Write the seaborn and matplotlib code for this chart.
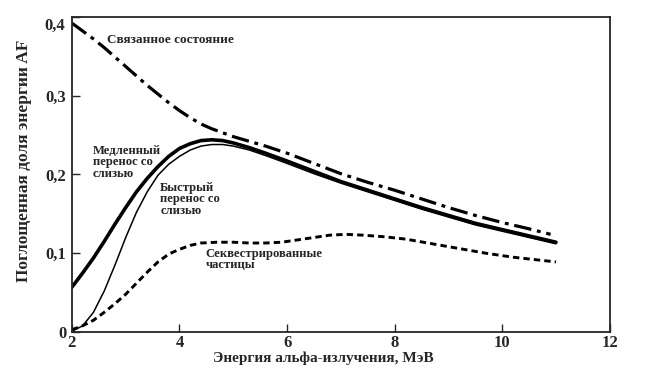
import matplotlib
matplotlib.use("Agg")
import matplotlib.pyplot as plt
import seaborn as sns

# energy (MeV) and absorbed fraction AF
x_bound = [2.0, 2.2, 2.4, 2.6, 2.8, 3.0, 3.2, 3.4, 3.6, 3.8, 4.0, 4.2, 4.4, 4.6, 4.8, 5.0, 5.3, 5.6,
           6.0, 6.5, 7.0, 7.5, 8.0, 8.5, 9.0, 9.5, 10.0, 10.5, 10.9]
y_bound = [0.392, 0.382, 0.372, 0.361, 0.349, 0.337, 0.325, 0.313, 0.302, 0.291, 0.281, 0.272, 0.264,
           0.258, 0.253, 0.248, 0.242, 0.236, 0.227, 0.214, 0.201, 0.190, 0.180, 0.169, 0.158, 0.148,
           0.139, 0.131, 0.124]

x_slow = [2.0, 2.2, 2.4, 2.6, 2.8, 3.0, 3.2, 3.4, 3.6, 3.8, 4.0, 4.2, 4.4, 4.6, 4.8, 5.0, 5.3, 5.6,
          6.0, 6.5, 7.0, 7.5, 8.0, 8.5, 9.0, 9.5, 10.0, 10.5, 11.0]
y_slow = [0.057, 0.075, 0.094, 0.115, 0.137, 0.158, 0.178, 0.195, 0.210, 0.223, 0.233, 0.239, 0.243,
          0.244, 0.243, 0.240, 0.234, 0.227, 0.217, 0.204, 0.191, 0.180, 0.169, 0.158, 0.148, 0.138,
          0.130, 0.122, 0.114]

x_fast = [2.0, 2.2, 2.4, 2.6, 2.8, 3.0, 3.2, 3.4, 3.6, 3.8, 4.0, 4.2, 4.4, 4.6, 4.8, 5.0, 5.3, 5.6,
          6.0, 6.5, 7.0, 7.5, 8.0, 8.5, 9.0, 9.5, 10.0, 10.5, 11.0]
y_fast = [0.001, 0.008, 0.025, 0.052, 0.085, 0.120, 0.152, 0.178, 0.199, 0.213, 0.223, 0.231, 0.236,
          0.238, 0.238, 0.236, 0.231, 0.224, 0.214, 0.201, 0.189, 0.178, 0.167, 0.156, 0.146, 0.136,
          0.128, 0.120, 0.112]

x_seq = [2.0, 2.2, 2.4, 2.6, 2.8, 3.0, 3.2, 3.4, 3.6, 3.8, 4.0, 4.2, 4.4, 4.7, 5.0, 5.3, 5.6, 5.9,
         6.2, 6.5, 6.8, 7.1, 7.4, 7.8, 8.2, 8.7, 9.2, 9.7, 10.2, 10.6, 11.0]
y_seq = [0.003, 0.008, 0.015, 0.025, 0.036, 0.048, 0.062, 0.076, 0.089, 0.099, 0.105, 0.110, 0.113,
         0.114, 0.114, 0.113, 0.113, 0.114, 0.117, 0.120, 0.123, 0.124, 0.123, 0.121, 0.118, 0.112,
         0.106, 0.100, 0.095, 0.092, 0.089]

x_ticks = [2, 4, 6, 8, 10, 12]
y_ticks = [0, 0.1, 0.2, 0.3, 0.4]
y_tick_labels = ["0", "0,1", "0,2", "0,3", ""]

sns.set_style("ticks")
plt.rcParams['font.family'] = ['Liberation Serif', 'DejaVu Serif']
plt.rcParams['font.weight'] = 'bold'

fig = plt.figure(figsize=(6.48, 3.83), dpi=100)
ax = fig.add_axes([0.111, 0.133, 0.830, 0.823])

sns.lineplot(x=x_bound, y=y_bound, ax=ax, color="black", linewidth=2.3,
             linestyle=(0, (5.5, 1.8, 1.2, 1.8)))
sns.lineplot(x=x_slow, y=y_slow, ax=ax, color="black", linewidth=2.6)
sns.lineplot(x=x_fast, y=y_fast, ax=ax, color="black", linewidth=1.1)
sns.lineplot(x=x_seq, y=y_seq, ax=ax, color="black", linewidth=2.1,
             linestyle=(0, (2.2, 1.4)))
for ln in ax.lines:
    ln.set_solid_joinstyle("round")
    ln.set_dash_joinstyle("round")

ax.set_xlim(2, 12)
ax.set_ylim(0, 0.4)
ax.set_xticks(x_ticks)
ax.set_xticklabels([str(t) for t in x_ticks])
ax.set_yticks(y_ticks)
ax.set_yticklabels(y_tick_labels)
ax.tick_params(direction="in", length=6, width=1, labelsize=12)
ax.tick_params(axis="x", pad=2)
ax.tick_params(axis="y", pad=4)
for s in ax.spines.values():
    s.set_visible(True)
    s.set_linewidth(1.3)

# top y label sits a little below the corner in the original
ax.text(-0.012, 0.389, "0,4", transform=ax.get_yaxis_transform(),
        ha="right", va="center", fontsize=12, fontweight="bold")

ax.set_xlabel("Энергия альфа-излучения, МэВ", fontsize=11, fontweight="bold")
ax.set_ylabel("Поглощенная доля энергии AF", fontsize=12.5, fontweight="bold")
ax.xaxis.set_label_coords(0.467, -0.062)
ax.yaxis.set_label_coords(-0.074, 0.543)

tk = dict(fontsize=9.5, fontweight="bold", va="top", ha="left", linespacing=0.95)
ax.text(2.65, 0.378, "Связанное состояние", **tk)
tk["fontsize"] = 9.1
ax.text(2.39, 0.238, "Медленный\nперенос со\nслизью", **tk)
ax.text(3.64, 0.191, "Быстрый\nперенос со\nслизью", **tk)
ax.text(4.49, 0.107, "Секвестрированные\nчастицы", **tk)

fig.savefig("out.png", dpi=100, facecolor="white")
